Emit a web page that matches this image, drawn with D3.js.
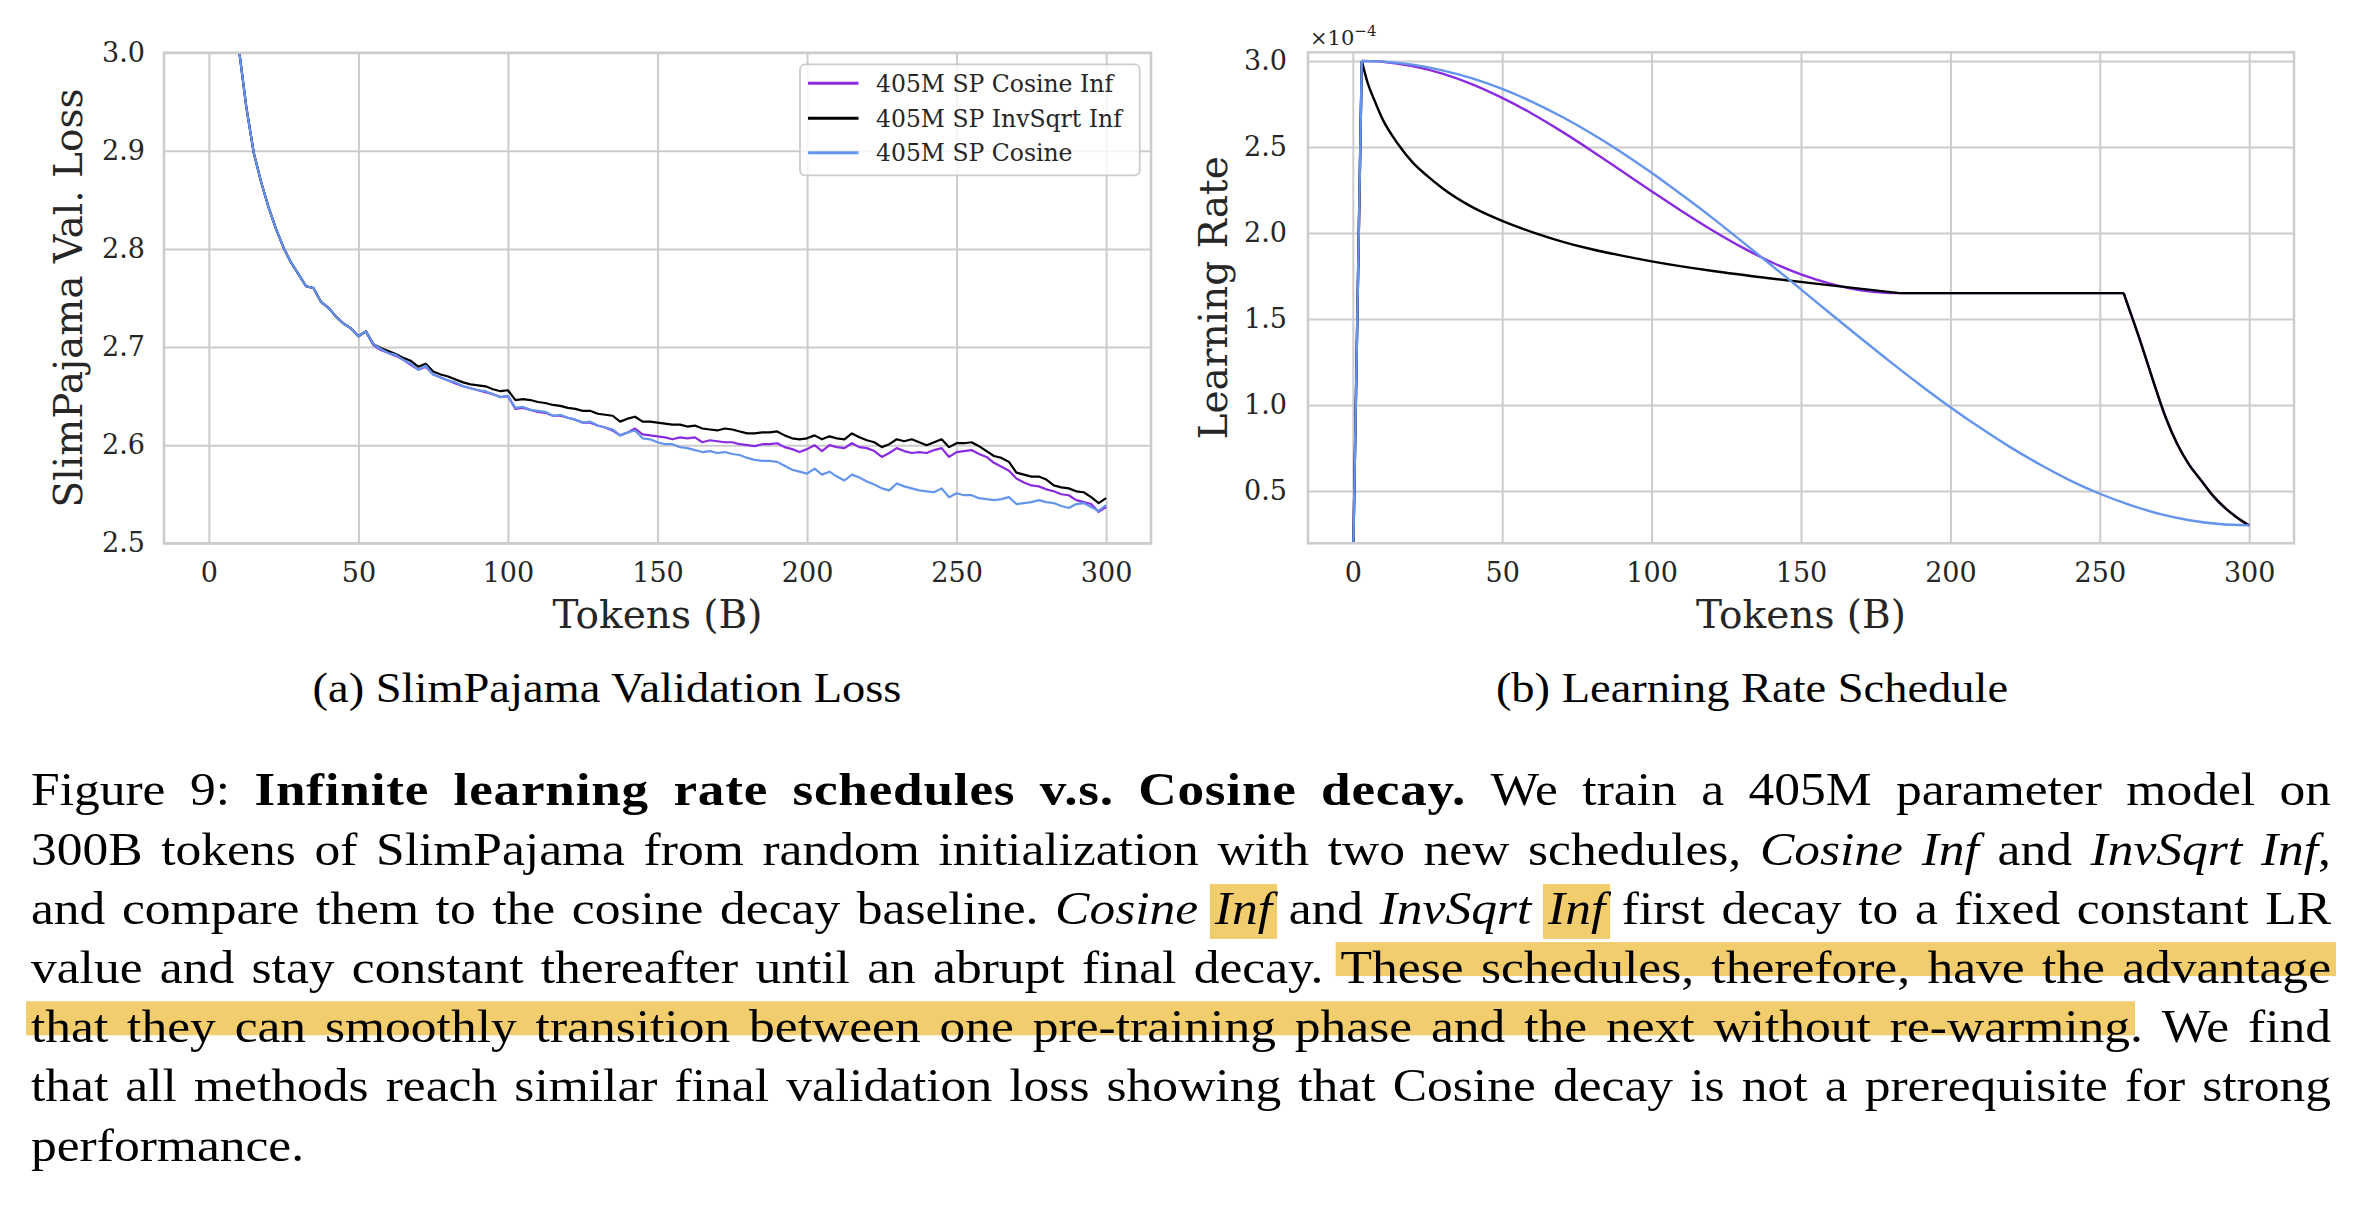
<!DOCTYPE html>
<html><head><meta charset="utf-8">
<script src="https://cdn.jsdelivr.net/npm/d3@7"></script>
<style>body{margin:0;background:#fff;} svg{display:block;}</style>
</head><body>
<svg id="fig" width="2360" height="1206"></svg>
<script>
// ---------------- DATA ----------------
const xTickValues = [0, 50, 100, 150, 200, 250, 300];
const lossYTicks = [2.5, 2.6, 2.7, 2.8, 2.9, 3.0];
const lrYTicks = [0.5, 1.0, 1.5, 2.0, 2.5, 3.0];
const seriesNames = ["405M SP Cosine Inf", "405M SP InvSqrt Inf", "405M SP Cosine"];
const seriesColors = ["#8a2be2", "#000000", "#6495ed"];

const lossTokens = [7.5,10,12.5,15,17.5,20,22.5,25,27.5,30,32.5,35,37.5,40,42.5,45,47.5,50,52.5,55,57.5,60,62.5,65,67.5,70,72.5,75,77.5,80,82.5,85,87.5,90,92.5,95,97.5,100,
102.5,105,107.5,110,112.5,115,117.5,120,122.5,125,127.5,130,132.5,135,137.5,140,142.5,145,147.5,150,152.5,155,157.5,160,162.5,165,167.5,170,172.5,175,
177.5,180,182.5,185,187.5,190,192.5,195,197.5,200,202.5,205,207.5,210,212.5,215,217.5,220,222.5,225,227.5,230,232.5,235,237.5,240,242.5,245,247.5,250,
252.5,255,257.5,260,262.5,265,267.5,270,272.5,275,277.5,280,282.5,285,287.5,290,292.5,295,297.5,300];

const lossCosineInf = [3.09,3.005,2.945,2.898,2.868,2.842,2.820,2.801,2.786,2.774,2.762,2.760,2.746,2.740,2.731,2.724,2.719,2.711,2.716,2.702,2.697,2.694,2.691,2.687,2.682,2.677,2.680,2.672,2.669,2.666,2.663,2.660,2.658,2.656,2.654,2.652,2.649,2.650,
2.637,2.638,2.636,2.634,2.633,2.630,2.630,2.628,2.626,2.623,
2.623,2.620,2.618,2.615,2.610,2.613,2.617,2.611,2.610,2.609,
2.608,2.606,2.608,2.607,2.608,2.603,2.605,2.604,2.603,2.603,
2.601,2.600,2.599,2.601,2.601,2.602,2.598,2.596,2.593,2.596,
2.600,2.594,2.600,2.598,2.597,2.602,2.598,2.597,2.594,2.588,
2.592,2.597,2.594,2.592,2.593,2.592,2.595,2.597,2.588,2.593,
2.594,2.595,2.591,2.588,2.582,2.578,2.574,2.566,2.562,2.559,
2.558,2.555,2.553,2.550,2.549,2.544,2.542,2.540,2.532,2.537];

const lossInvSqrtInf = [3.09,3.005,2.945,2.898,2.868,2.842,2.820,2.801,2.786,2.774,2.762,2.760,2.746,2.740,2.731,2.724,2.719,2.711,2.716,
2.703,2.699,2.696,2.693,2.689,2.686,2.680,2.683,2.675,2.672,2.670,2.667,2.664,2.662,2.661,2.660,2.657,2.655,2.656,
2.646,2.647,2.646,2.644,2.643,2.641,2.640,2.638,2.637,2.635,
2.635,2.632,2.631,2.630,2.624,2.627,2.629,2.624,2.624,2.623,
2.622,2.621,2.621,2.619,2.620,2.617,2.616,2.615,2.617,2.616,
2.614,2.612,2.612,2.613,2.613,2.614,2.610,2.607,2.606,2.607,
2.610,2.606,2.609,2.607,2.606,2.612,2.608,2.605,2.603,2.598,
2.601,2.606,2.604,2.606,2.603,2.600,2.603,2.606,2.598,2.602,
2.602,2.603,2.599,2.594,2.589,2.587,2.583,2.572,2.570,2.568,
2.568,2.565,2.559,2.557,2.556,2.553,2.552,2.547,2.541,2.546];

const lossCosine = [3.09,3.005,2.945,2.898,2.868,2.842,2.820,2.801,2.786,2.774,2.762,2.760,2.746,2.740,2.731,2.724,2.719,2.711,2.716,2.703,2.698,2.694,2.692,2.687,2.683,2.677,2.681,2.672,2.669,2.666,2.664,2.660,2.658,2.656,2.655,2.652,2.649,2.650,
2.638,2.639,2.636,2.635,2.634,2.630,2.631,2.628,2.626,2.623,
2.624,2.620,2.618,2.616,2.610,2.613,2.615,2.607,2.606,2.603,
2.601,2.601,2.598,2.597,2.595,2.593,2.594,2.592,2.593,2.591,
2.590,2.587,2.585,2.584,2.584,2.583,2.579,2.575,2.573,2.571,
2.576,2.570,2.573,2.568,2.564,2.570,2.567,2.563,2.560,2.556,
2.554,2.561,2.558,2.556,2.554,2.553,2.552,2.556,2.547,2.551,
2.549,2.549,2.546,2.545,2.544,2.545,2.547,2.540,2.541,2.542,
2.544,2.542,2.541,2.538,2.536,2.540,2.541,2.537,2.533,2.539];

// learning rate (x 1e-4)
const lrCosInfTokens = [0,3,10,20,30,40,50,60,70,80,90,100,110,120,130,140,150,160,170,180,183,258,260,263,266,269,272,276,280,284,288,292,296,300];
const lrCosineInf = [0,3.0,2.995,2.970,2.926,2.864,2.785,2.693,2.589,2.477,2.360,2.243,2.128,2.019,1.919,1.831,1.759,1.704,1.667,1.651,1.650,1.650,1.55,1.40,1.24,1.08,0.93,0.77,0.65,0.56,0.47,0.40,0.345,0.30];
const lrInvSqrtTokens = [0,3,5,7.5,10,15,20,25,30,40,50,60,70,80,90,100,120,140,160,183,258,260,263,266,269,272,276,280,284,288,292,296,300];
const lrInvSqrtInf = [0,3.0,2.87,2.76,2.66,2.52,2.41,2.33,2.26,2.15,2.07,2.005,1.95,1.905,1.868,1.835,1.78,1.735,1.695,1.65,1.65,1.55,1.40,1.24,1.08,0.93,0.77,0.65,0.56,0.47,0.40,0.345,0.30];
const lrCosTokens = [0,3,10,20,30,40,50,60,70,80,90,100,110,120,130,140,150,160,170,180,190,200,210,220,230,240,250,260,270,280,290,300];
const lrCosine = [0,3.0,2.996,2.978,2.945,2.898,2.837,2.762,2.675,2.577,2.468,2.350,2.223,2.092,1.954,1.814,1.672,1.529,1.388,1.249,1.115,0.987,0.867,0.755,0.654,0.562,0.484,0.420,0.367,0.330,0.308,0.300];
const lrKnots = [3, 183, 258];

const captionLines = [
  "Figure 9: **Infinite learning rate schedules v.s. Cosine decay.** We train a 405M parameter model on",
  "300B tokens of SlimPajama from random initialization with two new schedules, *Cosine Inf* and *InvSqrt Inf*,",
  "and compare them to the cosine decay baseline. *Cosine {Inf}* and *InvSqrt {Inf}* first decay to a fixed constant LR",
  "value and stay constant thereafter until an abrupt final decay. {These schedules, therefore, have the advantage}",
  "{that they can smoothly transition between one pre-training phase and the next without re-warming}. We find",
  "that all methods reach similar final validation loss showing that Cosine decay is not a prerequisite for strong",
  "performance."
];
const subCaptions = ["(a) SlimPajama Validation Loss", "(b) Learning Rate Schedule"];

// ---------------- DRAW ----------------
const svg = d3.select("#fig");
const GRID = "#cccccc", TXT = "#262626";
const PF = "'DejaVu Serif', serif";
const CF = "'Liberation Serif', 'Times New Roman', serif";
const defs = svg.append("defs");

function panel(cfg) {
  const x = d3.scaleLinear().domain([-15, 315]).range([cfg.left, cfg.right]);
  const y = d3.scaleLinear().domain(cfg.yDom).range([cfg.bottom, cfg.top]);
  const g = svg.append("g");
  const w = cfg.right - cfg.left, h = cfg.bottom - cfg.top;
  const ax = g.append("g").attr("transform", `translate(0,${cfg.bottom})`)
    .call(d3.axisBottom(x).tickValues(xTickValues).tickSize(-h).tickPadding(20).tickFormat(d3.format("d")));
  const ay = g.append("g").attr("transform", `translate(${cfg.left},0)`)
    .call(d3.axisLeft(y).tickValues(cfg.yTicks).tickSize(-w).tickPadding(cfg.yPad).tickFormat(d3.format(".1f")));
  [ax, ay].forEach(a => {
    a.select(".domain").remove();
    a.selectAll("line").attr("stroke", GRID).attr("stroke-width", 2);
    a.selectAll("text").attr("fill", TXT).attr("font-family", PF).attr("font-size", 27);
  });
  const id = "clip" + cfg.id;
  defs.append("clipPath").attr("id", id).append("rect")
    .attr("x", cfg.left).attr("y", cfg.top).attr("width", w).attr("height", h);
  const lines = g.append("g").attr("clip-path", `url(#${id})`);
  g.append("rect").attr("x", cfg.left).attr("y", cfg.top).attr("width", w).attr("height", h)
    .attr("fill", "none").attr("stroke", GRID).attr("stroke-width", 2.5);
  g.append("text").attr("x", (cfg.left + cfg.right) / 2).attr("y", 628).attr("text-anchor", "middle")
    .attr("font-family", PF).attr("font-size", 39).attr("fill", TXT).text("Tokens (B)");
  g.append("text").attr("transform", `translate(${cfg.ylx},${(cfg.top + cfg.bottom) / 2}) rotate(-90)`)
    .attr("text-anchor", "middle").attr("font-family", PF).attr("font-size", 39).attr("fill", TXT).text(cfg.ylabel);
  return {x, y, g, lines};
}

// Panel (a)
const pa = panel({id: "a", left: 164, right: 1151, top: 52.7, bottom: 543.3, yDom: [2.5, 3.0],
  yTicks: lossYTicks, yPad: 19, ylx: 82, ylabel: "SlimPajama Val. Loss"});
const lossSeries = [lossCosineInf, lossInvSqrtInf, lossCosine];
const lineA = d3.line().x((d, i) => pa.x(lossTokens[i])).y(d => pa.y(d)).curve(d3.curveLinear);
lossSeries.forEach((s, k) => {
  pa.lines.append("path").attr("d", lineA(s)).attr("fill", "none")
    .attr("stroke", seriesColors[k]).attr("stroke-width", 2.2).attr("stroke-linejoin", "round");
});
// legend
const leg = pa.g.append("g");
leg.append("rect").attr("x", 800).attr("y", 64.3).attr("width", 339.7).attr("height", 111).attr("rx", 5)
  .attr("fill", "#ffffff").attr("fill-opacity", 0.8).attr("stroke", GRID).attr("stroke-width", 1.8);
const legY = [83.3, 118.3, 152.7];
seriesNames.forEach((n, k) => {
  leg.append("line").attr("x1", 808).attr("x2", 858.5).attr("y1", legY[k]).attr("y2", legY[k])
    .attr("stroke", seriesColors[k]).attr("stroke-width", 3);
  leg.append("text").attr("x", 876).attr("y", legY[k]).attr("dy", "0.35em")
    .attr("font-family", PF).attr("font-size", 23.5).attr("fill", TXT).text(n);
});

// Panel (b)
const pb = panel({id: "b", left: 1308, right: 2294, top: 52.3, bottom: 543.3, yDom: [0.196, 3.05],
  yTicks: lrYTicks, yPad: 21, ylx: 1227, ylabel: "Learning Rate"});
const lrSeries = [[lrCosInfTokens, lrCosineInf], [lrInvSqrtTokens, lrInvSqrtInf], [lrCosTokens, lrCosine]];
lrSeries.forEach(([tk, vals], k) => {
  const pts = tk.map((t, i) => [t, vals[i]]);
  const pieces = [];
  let cur = [];
  pts.forEach(p => {
    cur.push(p);
    if (lrKnots.includes(p[0])) { pieces.push(cur); cur = [p]; }
  });
  if (cur.length > 1) pieces.push(cur);
  const ln = d3.line().x(d => pb.x(d[0])).y(d => pb.y(d[1])).curve(d3.curveMonotoneX);
  const dd = pieces.map(pc => ln(pc)).join("");
  pb.lines.append("path").attr("d", dd).attr("fill", "none")
    .attr("stroke", seriesColors[k]).attr("stroke-width", 2.4).attr("stroke-linejoin", "round");
});
const off = pb.g.append("text").attr("x", 1310).attr("y", 45).attr("font-family", PF).attr("font-size", 21).attr("fill", TXT);
off.append("tspan").text("\u00d710");
off.append("tspan").attr("dy", -9).attr("font-size", 15).text("\u22124");

// Sub captions
const SX = 1.12;
const capG = svg.append("g").attr("transform", `scale(${SX},1)`);
[[607, subCaptions[0]], [1752, subCaptions[1]]].forEach(([cx, t]) => {
  capG.append("text").attr("x", cx / SX).attr("y", 702).attr("text-anchor", "middle")
    .attr("font-family", CF).attr("font-size", 41.5).attr("fill", "#000").text(t);
});

// Caption
function parse(str) {
  const words = [];
  let st = {b: false, i: false, h: false};
  let parts = [], cur = null;
  const flushWord = () => { if (parts.length) words.push(parts); parts = []; cur = null; };
  for (let k = 0; k < str.length; k++) {
    const c = str[k];
    if (c === " ") { flushWord(); continue; }
    if (c === "*" && str[k + 1] === "*") { st = {...st, b: !st.b}; cur = null; k++; continue; }
    if (c === "*") { st = {...st, i: !st.i}; cur = null; continue; }
    if (c === "{" || c === "}") { st = {...st, h: !st.h}; cur = null; continue; }
    if (!cur) { cur = {t: "", b: st.b, i: st.i, h: st.h}; parts.push(cur); }
    cur.t += c;
  }
  flushWord();
  return words;
}
const hlG = capG.append("g"), txG = capG.append("g");
const HL = "#f2cd6e";
const L = 31 / SX, R = 2331 / SX;
captionLines.forEach((str, li) => {
  const words = parse(str);
  const base = 805.5 + 59.2 * li;
  const els = words.map(parts => {
    const t = txG.append("text").attr("y", base).attr("font-family", CF).attr("font-size", 46).attr("fill", "#000");
    parts.forEach(p => t.append("tspan").attr("font-weight", p.b ? "bold" : "normal")
      .attr("font-size", p.b ? 47.5 : 46)
      .attr("letter-spacing", p.b ? 0.7 : 0)
      .attr("font-style", p.i ? "italic" : "normal").text(p.t));
    return t;
  });
  const widths = els.map(e => e.node().getComputedTextLength());
  const total = d3.sum(widths);
  const justify = li < captionLines.length - 1;
  const gap = justify ? (R - L - total) / (words.length - 1) : 46 * 0.25;
  let xx = L;
  const segs = [];
  els.forEach((e, k) => {
    e.attr("x", xx);
    let px = xx;
    e.selectAll("tspan").each(function(_, j) {
      const w = this.getComputedTextLength();
      if (words[k][j].h) segs.push([px, px + w]);
      px += w;
    });
    xx += widths[k] + gap;
  });
  const merged = [];
  segs.forEach(s => {
    const last = merged[merged.length - 1];
    if (last && s[0] - last[1] <= gap + 1 && li !== 2) last[1] = s[1];
    else merged.push([s[0], s[1]]);
  });
  const pad = 5 / SX;
  merged.forEach(([a, b]) => {
    const tall = li === 2;
    hlG.append("rect").attr("x", a - pad).attr("width", b - a + 2 * pad)
      .attr("y", tall ? base - 40 : base - 41).attr("height", tall ? 55 : 34).attr("fill", HL);
  });
});
</script>
</body></html>
